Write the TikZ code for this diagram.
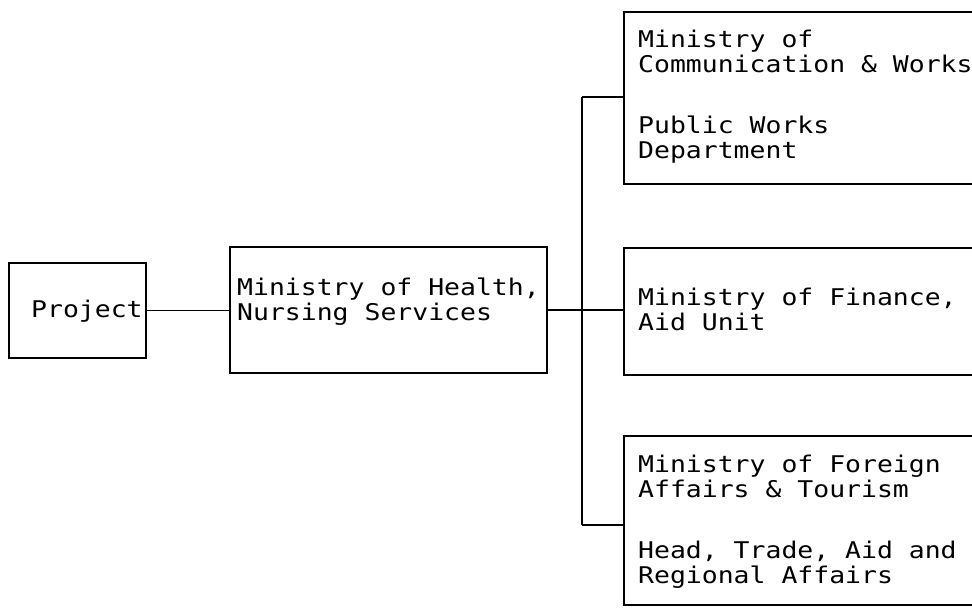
\documentclass[tikz,border=0pt]{standalone}
\usepackage{fontspec}
\newfontfamily\tw[FakeStretch=1.15]{DejaVu Sans Mono}
\begin{document}
\begin{tikzpicture}[x=1pt,y=1pt,
  box/.style={draw, line width=2pt, inner sep=0, anchor=north west},
  link/.style={draw, line width=1.4pt},
  txt/.style={inner sep=0, align=left, anchor=north west, font=\tw\fontsize{23}{25}\selectfont}]
\useasboundingbox (0,0) rectangle (972,-609);
\fill[white] (0,0) rectangle (972,-609);
\begin{scope}
\clip (0,0) rectangle (972,-609);
% boxes
\node[box, minimum width=137, minimum height=95] (proj) at (8,-262) {};
\node[box, minimum width=317, minimum height=126] (health) at (229,-246) {};
\node[box, minimum width=380, minimum height=172] (comm) at (623,-11) {};
\node[box, minimum width=380, minimum height=127] (fin) at (623,-247) {};
\node[box, minimum width=380, minimum height=169] (forg) at (623,-435) {};
% texts
\node[txt, anchor=base west] (tproj) at (31,-318) {Project};
\node[txt] (thealth) at (237,-278) {Ministry of Health,\\Nursing Services};
\node[txt] (tcomm) at (638,-30) {Ministry of\\Communication \& Works\\[36pt]Public Works\\Department};
\node[txt] (tfin) at (638,-288) {Ministry of Finance,\\Aid Unit};
\node[txt] (tforg) at (638,-455) {Ministry of Foreign\\Affairs \& Tourism\\[36pt]Head, Trade, Aid and\\Regional Affairs};
% connectors
\coordinate (jtop) at (582,-97);
\coordinate (jbot) at (582,-525);
\draw[link] (proj.east) -- (proj.east -| health.west);
\draw[link] (health.east) -- (health.east -| fin.west);
\draw[link] (jtop) -- (jbot);
\draw[link] (jtop) -- (jtop -| comm.west);
\draw[link] (jbot) -- (jbot -| forg.west);
\end{scope}
\end{tikzpicture}
\end{document}
